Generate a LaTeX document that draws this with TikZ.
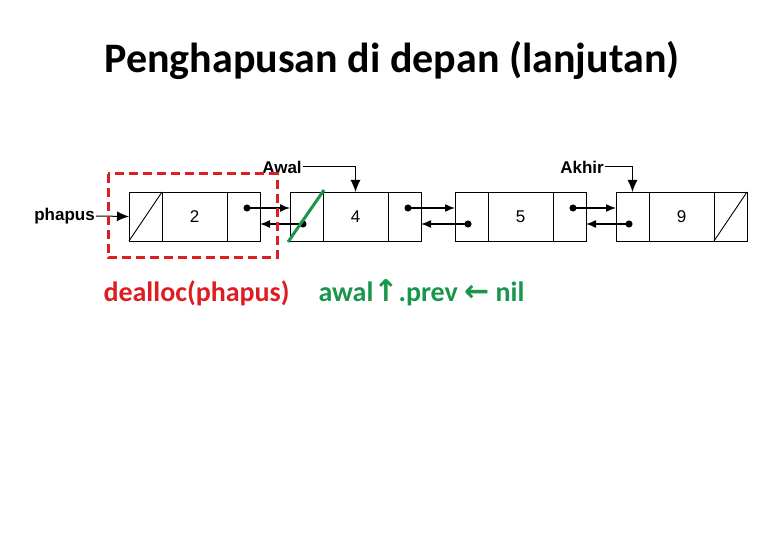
\documentclass[tikz,border=0pt]{standalone}
\usepackage{fontspec}
\setmainfont{Carlito}
\newfontfamily\arial{Liberation Sans}
\newfontfamily\dejavu{DejaVu Sans}
\usetikzlibrary{arrows.meta,calc}
\definecolor{myred}{RGB}{220,30,35}
\definecolor{mygreen}{RGB}{25,150,75}
\begin{document}
\begin{tikzpicture}[x=1pt,y=-1pt,
  cell/.style={draw,line width=0.9pt,minimum height=49pt,inner sep=0pt,outer sep=0pt,font=\arial\fontsize{17}{19}\selectfont},
  pc/.style={cell,minimum width=33pt},
  dc/.style={cell,minimum width=65pt},
  ptr/.style={line width=1.4pt,{Circle[length=7pt]}-{Latex[length=10pt,width=8pt]}},
  lbl/.style={font=\arial\bfseries\fontsize{17}{19}\selectfont,inner sep=1pt},
  lptr/.style={line width=1pt,-{Latex[length=12pt,width=10pt]}}]
\useasboundingbox (0,0) rectangle (780,540);
\node[font=\bfseries\fontsize{42}{46}\selectfont] (title) at (392,60) {Penghapusan di depan (lanjutan)};
% nodes
\foreach \n/\L/\v in {1/129/2,2/290/4,3/455/5,4/616/9}{
  \node[pc] (n\n p) at ({\L+16.5},216.5) {};
  \node[dc] (n\n d) at ({\L+65.5},216.5) {\v};
  \node[pc] (n\n n) at ({\L+114.5},216.5) {};
}
\draw[line width=0.9pt] (n1p.south west) -- (n1p.north east);
\draw[line width=0.9pt] (n4n.south west) -- (n4n.north east);
% pointers
\foreach \a/\b in {1/2,2/3,3/4}{
  \draw[ptr] ([yshift=8.5pt]n\a n.center) -- ([yshift=8.5pt]n\b p.west);
  \draw[ptr] ([yshift=-7.5pt]n\b p.center) -- ([yshift=-7.5pt]n\a n.east);
}
\node[lbl,anchor=east] (phapus) at (96,216) {phapus};
\draw[lptr] (phapus.east) -- (n1p.west);
\node[lbl] (awal) at (282,167) {Awal};
\draw[lptr] (awal.east) -| (n2d.north);
\node[lbl] (akhir) at (582,167) {Akhir};
\draw[lptr] (akhir.east) -| (n4p.north);
% green strike
\draw[mygreen,line width=3pt] ($(n2p.south west)+(-2,1)$) -- ($(n2p.north east)+(1,-2)$);
% red box
\draw[myred,line width=3pt,dash pattern=on 9pt off 5pt] (108,174) rectangle (277,258);
\node[myred,font=\bfseries\fontsize{28}{32}\selectfont,anchor=west] (dealloc) at (100,293) {dealloc(phapus)};
\node[mygreen,font=\bfseries\fontsize{28}{32}\selectfont,anchor=west] (awalprev) at (315,293) {awal{\dejavu\bfseries\fontsize{30}{32}\selectfont↑}.prev {\dejavu\bfseries\fontsize{30}{32}\selectfont←} nil};
\end{tikzpicture}
\end{document}
